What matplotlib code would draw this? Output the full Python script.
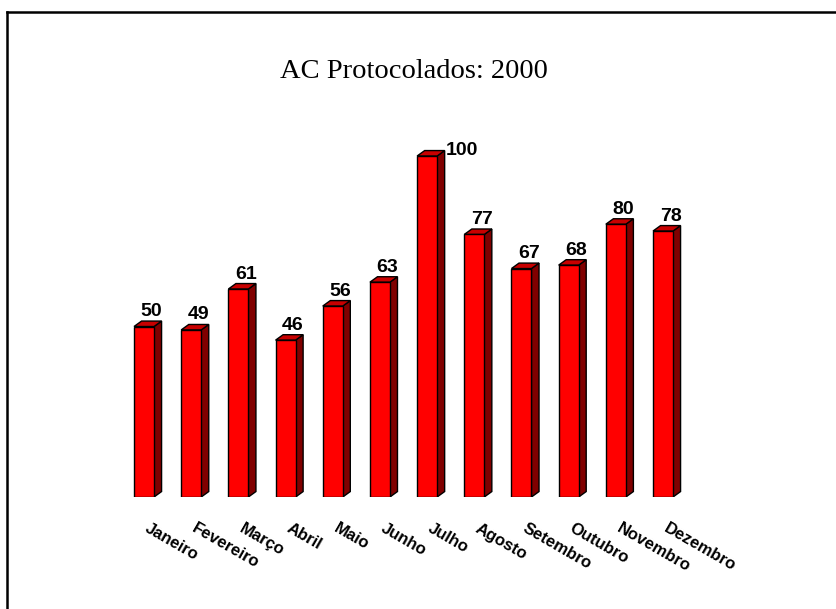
import matplotlib
matplotlib.use("Agg")
import matplotlib.pyplot as plt
from matplotlib.patches import Rectangle, Polygon
from matplotlib.lines import Line2D

months = ["Janeiro", "Fevereiro", "Março", "Abril", "Maio", "Junho",
          "Julho", "Agosto", "Setembro", "Outubro", "Novembro", "Dezembro"]
values = [50, 49, 61, 46, 56, 63, 100, 77, 67, 68, 80, 78]
title = "AC Protocolados: 2000"

W, H = 837, 609
fig = plt.figure(figsize=(W / 100, H / 100), dpi=100)
fig.patch.set_facecolor("white")

ax = fig.add_axes([0.1157, 0.1839, 0.8485 - 0.1157, 0.7998 - 0.1839])
ax.set_xlim(-1, 12)
ax.set_ylim(0, 110)
ax.axis("off")

bar_w = 0.424      # front face width (x units)
dx = 0.16          # depth offset in x
dy = 1.6           # depth offset in y

front_c = "#FF0000"
side_c = "#800000"
top_c = "#C80000"

for i, v in enumerate(values):
    x0 = i - bar_w / 2
    x1 = i + bar_w / 2
    side = Polygon([(x1, 0), (x1 + dx, dy), (x1 + dx, v + dy), (x1, v)],
                   closed=True, facecolor=side_c, edgecolor="black", lw=1.0)
    top = Polygon([(x0, v), (x0 + dx, v + dy), (x1 + dx, v + dy), (x1, v)],
                  closed=True, facecolor=top_c, edgecolor="black", lw=1.0)
    front = Rectangle((x0, 0), bar_w, v, facecolor=front_c,
                      edgecolor="black", lw=1.0)
    ax.add_patch(side)
    ax.add_patch(top)
    ax.add_patch(front)

    if v >= max(values):
        ax.text(x1 + dx + 0.02, v + dy, str(v), ha="left", va="center",
                fontsize=14, fontweight="bold", family="Liberation Sans",
                clip_on=False)
    else:
        ax.text(i + dx / 2 + 0.08, v + dy + 0.3, str(v), ha="center",
                va="bottom", fontsize=14, fontweight="bold",
                family="Liberation Sans", clip_on=False)

    ax.text(i + 0.12, -7.0, months[i], rotation=-30, rotation_mode="anchor",
            ha="left", va="top", fontsize=12, fontweight="bold",
            family="Liberation Sans", clip_on=False)

fig.text(414 / W, 1 - 72 / H, title, ha="center", va="center",
         fontsize=20.5, family="Liberation Serif")

# frame lines along the top and left edges
fig.add_artist(Line2D([7.5 / W, 7.5 / W], [0, 1 - 11.5 / H],
                      transform=fig.transFigure, color="black", lw=1.8,
                      solid_capstyle="projecting"))
fig.add_artist(Line2D([7.5 / W, 1], [1 - 11.5 / H, 1 - 11.5 / H],
                      transform=fig.transFigure, color="black", lw=1.8,
                      solid_capstyle="projecting"))

fig.savefig("out.png", dpi=100, facecolor="white")
